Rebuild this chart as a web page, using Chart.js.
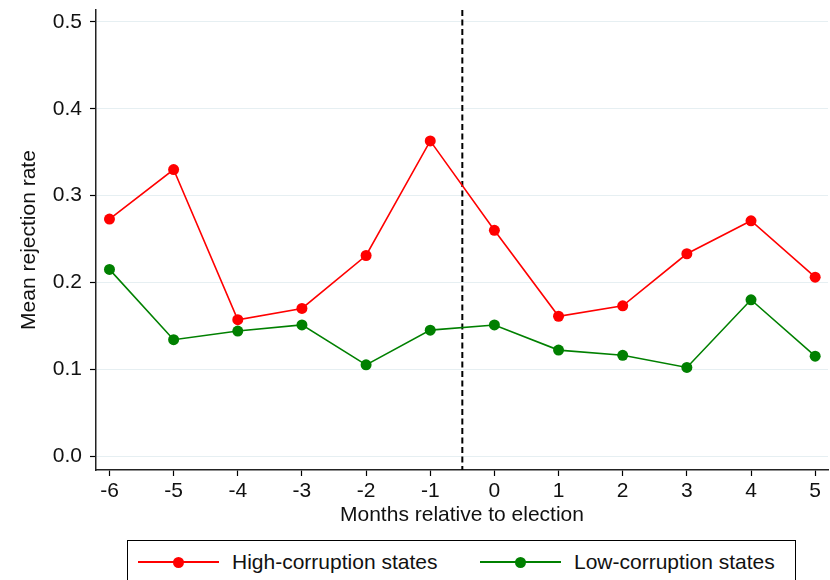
<!DOCTYPE html>
<html>
<head>
<meta charset="utf-8">
<script src="https://cdn.jsdelivr.net/npm/chart.js@4"></script>
<style>
    body { margin: 0; background: #fff; font-family: "Liberation Sans", Arial, sans-serif; }
    #wrap { position: relative; width: 830px; height: 580px; }
    #legend {
        position: absolute; left: 127px; top: 540px; width: 669px; height: 50px;
        border: 1px solid #000; box-sizing: border-box;
    }
    .item { position: absolute; top: 10px; height: 22px; display: flex; align-items: center; font-size: 21px; color: #111; }
    .sample { position: relative; width: 81px; height: 2px; margin-right: 13px; }
    .sample i { position: absolute; left: 35px; top: -4.5px; width: 11px; height: 11px; border-radius: 50%; }
</style>
</head>
<body>
<div id="wrap">
    <canvas id="chart" width="830" height="530"></canvas>
    <div id="legend"></div>
</div>
<script>
const months = [-6, -5, -4, -3, -2, -1, 0, 1, 2, 3, 4, 5];
const highCorruption = [0.273, 0.330, 0.157, 0.170, 0.231, 0.363, 0.260, 0.161, 0.173, 0.233, 0.271, 0.206];
const lowCorruption = [0.215, 0.134, 0.144, 0.151, 0.105, 0.145, 0.151, 0.122, 0.116, 0.102, 0.180, 0.115];
const yTicks = [0.0, 0.1, 0.2, 0.3, 0.4, 0.5];
const electionLine = -0.5;

const toPoints = (vals) => months.map((m, i) => ({ x: m, y: vals[i] }));

// vertical dashed marker between month -1 and 0
const dashedLine = {
    id: 'dashedLine',
    beforeDatasetsDraw(chart) {
        const { ctx, chartArea, scales } = chart;
        const x = scales.x.getPixelForValue(electionLine);
        ctx.save();
        ctx.strokeStyle = '#000';
        ctx.lineWidth = 2;
        ctx.setLineDash([6, 3.5]);
        ctx.beginPath();
        ctx.moveTo(x, chartArea.top);
        ctx.lineTo(x, chartArea.bottom);
        ctx.stroke();
        ctx.restore();
    }
};

Chart.defaults.font.family = '"Liberation Sans", Arial, sans-serif';
Chart.defaults.font.size = 21;
Chart.defaults.color = '#111';

const chart = new Chart(document.getElementById('chart'), {
    type: 'line',
    data: {
        datasets: [
            {
                label: 'High-corruption states',
                data: toPoints(highCorruption),
                borderColor: '#ff0000',
                backgroundColor: '#ff0000',
                borderWidth: 1.6,
                pointRadius: 5.5,
                pointBorderWidth: 0,
                tension: 0
            },
            {
                label: 'Low-corruption states',
                data: toPoints(lowCorruption),
                borderColor: '#008000',
                backgroundColor: '#008000',
                borderWidth: 1.6,
                pointRadius: 5.5,
                pointBorderWidth: 0,
                tension: 0
            }
        ]
    },
    options: {
        responsive: false,
        animation: false,
        layout: { autoPadding: false, padding: { top: 10, right: 2 } },
        plugins: { legend: { display: false }, tooltip: { enabled: false } },
        scales: {
            x: {
                type: 'linear',
                min: -6.21,
                max: 5.2,
                afterFit: (scale) => { scale.height = 60; scale.paddingLeft = 0; scale.paddingRight = 0; },
                ticks: {
                    stepSize: 1,
                    includeBounds: false,
                    padding: 3,
                    autoSkip: false,
                    maxRotation: 0,
                    callback: (v) => String(v)
                },
                grid: { drawOnChartArea: false, tickColor: '#000', tickLength: 6, tickWidth: 1.2 },
                border: { color: '#222', width: 1.5 },
                title: { display: true, text: 'Months relative to election', padding: { top: 0, bottom: 2 } }
            },
            y: {
                min: -0.0161,
                max: 0.5138,
                afterFit: (scale) => { scale.width = 96; scale.paddingTop = 0; scale.paddingBottom = 0; },
                afterBuildTicks: (scale) => { scale.ticks = yTicks.map(v => ({ value: v })); },
                ticks: {
                    padding: 8,
                    callback: (v) => Number(v).toFixed(1)
                },
                grid: { color: '#e6eff2', lineWidth: 1, tickColor: '#000', tickLength: 6, tickWidth: 1.2 },
                border: { color: '#222', width: 1.5 },
                title: { display: true, text: 'Mean rejection rate', padding: { top: 17, bottom: 0 } }
            }
        }
    },
    plugins: [dashedLine]
});

// legend built from the chart's datasets
const legendPos = [10, 352];
document.getElementById('legend').innerHTML = chart.data.datasets.map((ds, i) => `
    <div class="item" style="left:${legendPos[i]}px">
        <span class="sample" style="background:${ds.borderColor}"><i style="background:${ds.backgroundColor}"></i></span>
        <span>${ds.label}</span>
    </div>`).join('');
</script>
</body>
</html>
